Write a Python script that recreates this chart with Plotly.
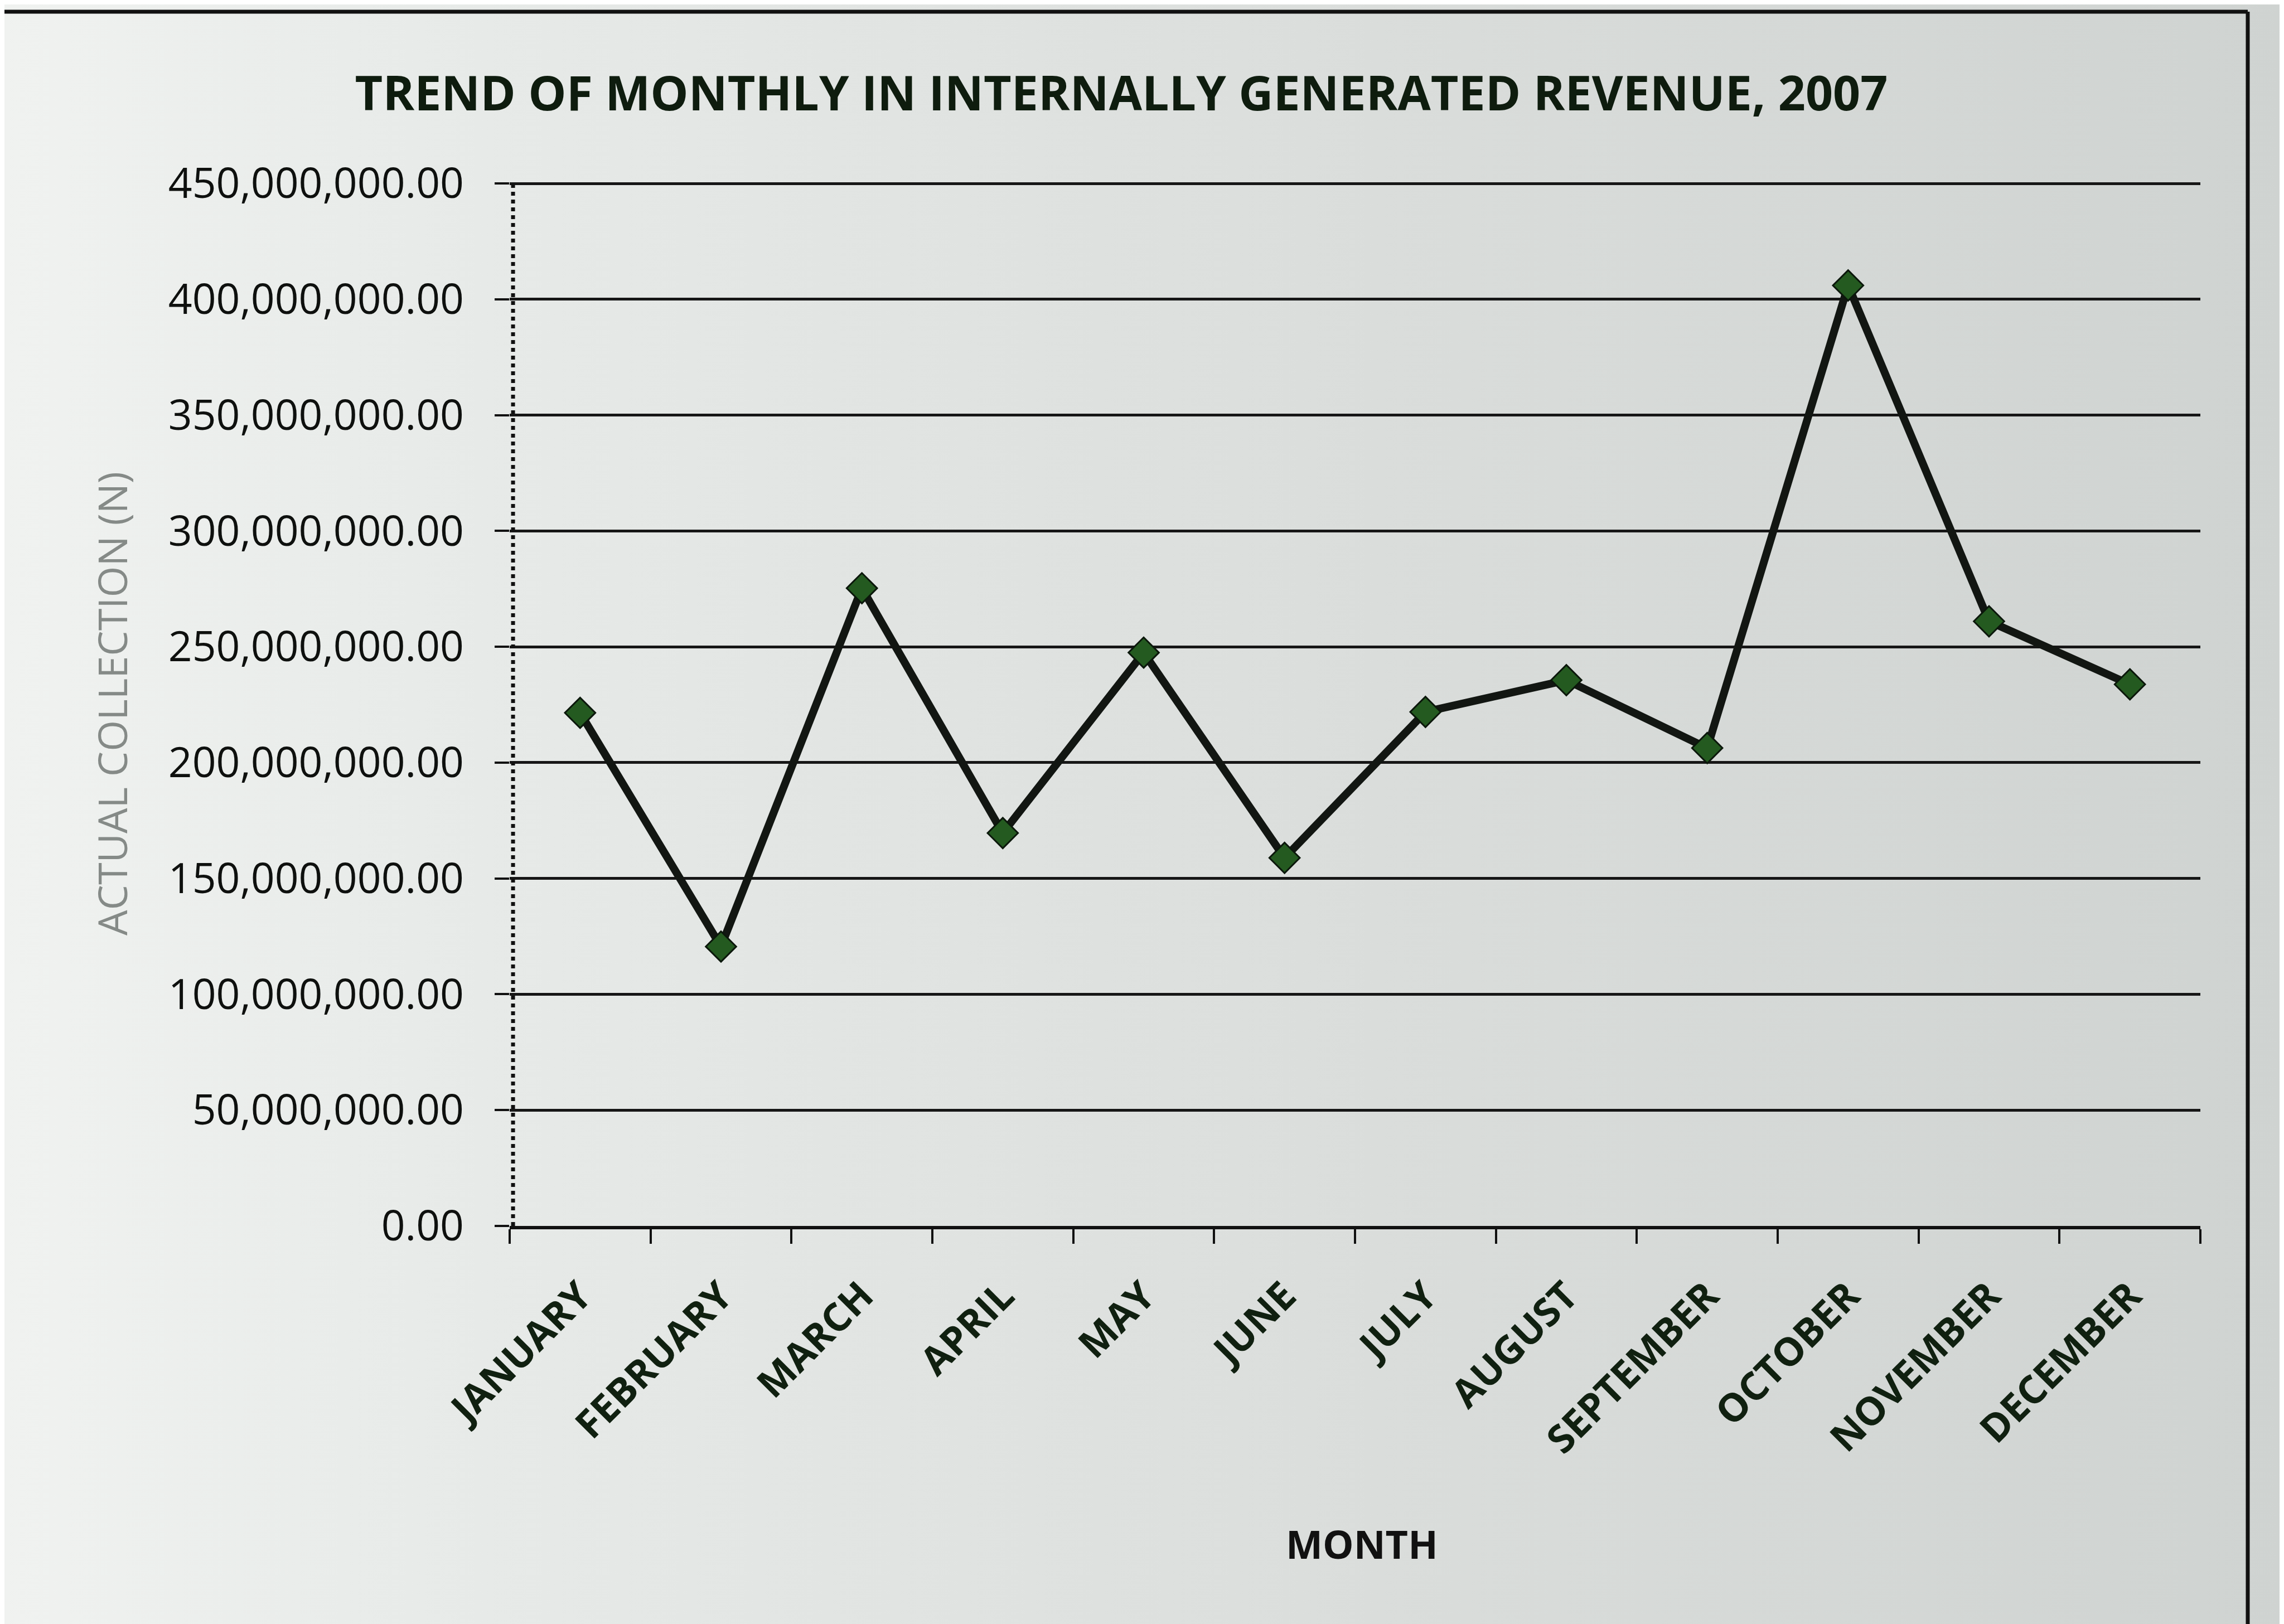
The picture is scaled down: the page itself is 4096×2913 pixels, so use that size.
import base64
import plotly.graph_objects as go

months = ["JANUARY", "FEBRUARY", "MARCH", "APRIL", "MAY", "JUNE", "JULY",
          "AUGUST", "SEPTEMBER", "OCTOBER", "NOVEMBER", "DECEMBER"]
collection = [221.5e6, 120.6e6, 275.3e6, 169.6e6, 247.5e6, 158.9e6,
              221.9e6, 235.6e6, 206.3e6, 406.0e6, 261.0e6, 233.8e6]
y_ticks = [0, 50e6, 100e6, 150e6, 200e6, 250e6, 300e6, 350e6, 400e6, 450e6]

title_text = "TREND OF MONTHLY IN INTERNALLY GENERATED REVENUE, 2007"
y_title = "ACTUAL COLLECTION (N)"
x_title = "MONTH"

W, H = 4096, 2913
L, R, T, B = 906, 158, 317, 722
PW, PH = W - L - R, H - T - B

def px(xp):
    return (xp - L) / PW

def py(yp):
    return (H - B - yp) / PH

svg = ('<svg xmlns="http://www.w3.org/2000/svg" width="400" height="300" preserveAspectRatio="none">'
       '<defs><linearGradient id="g" x1="0" y1="0" x2="1" y2="0">'
       '<stop offset="0" stop-color="#f0f2f0"/><stop offset="0.15" stop-color="#e9ecea"/>'
       '<stop offset="0.6" stop-color="#dadddb"/><stop offset="1" stop-color="#cfd3d1"/>'
       '</linearGradient></defs><rect width="400" height="300" fill="url(#g)"/></svg>')
bg_src = "data:image/svg+xml;base64," + base64.b64encode(svg.encode()).decode()

fig = go.Figure()
fig.add_trace(go.Scatter(
    x=months, y=collection, mode="lines+markers",
    line=dict(color="#121612", width=14),
    marker=dict(symbol="diamond", size=42, color="#245a20",
                line=dict(color="#0b170b", width=3)),
    showlegend=False, cliponaxis=False,
))

font_main = "Open Sans"

fig.update_layout(
    width=W, height=H, autosize=False,
    margin=dict(l=L, r=R, t=T, b=B),
    paper_bgcolor="#dadddb",
    plot_bgcolor="rgba(0,0,0,0)",
    font=dict(family=font_main, color="#111111"),
    title=dict(text="<b>" + title_text + "</b>", x=px(2003), xref="paper",
               xanchor="center", y=1 - 160 / H, yref="container", yanchor="middle",
               font=dict(family=font_main, size=86, color="#0e1c0e")),
    xaxis=dict(
        type="category", tickangle=-45, tickson="boundaries",
        ticks="outside", ticklen=26, tickwidth=4, tickcolor="#111111",
        showline=True, linecolor="#111111", linewidth=6,
        showgrid=False, ticklabelstandoff=50,
        tickfont=dict(family=font_main, size=70, color="#102010", weight="bold"),
        range=[-0.5, 11.5],
    ),
    yaxis=dict(
        range=[0, 451e6], tickvals=y_ticks, tickformat=",.2f",
        showgrid=True, gridcolor="#161616", gridwidth=5,
        ticks="outside", ticklen=26, tickwidth=4, tickcolor="#111111",
        showline=False, zeroline=False, ticklabelstandoff=40,
        tickfont=dict(family=font_main, size=75, color="#0e100e"),
    ),
    images=[dict(source=bg_src, xref="paper", yref="paper",
                 x=px(0), y=py(0), sizex=W / PW, sizey=H / PH,
                 sizing="stretch", layer="below", xanchor="left", yanchor="top")],
    shapes=[
        dict(type="line", xref="paper", yref="paper", x0=0.002, x1=0.002, y0=0, y1=0.998,
             line=dict(color="#111111", width=7, dash="dot")),
        dict(type="line", xref="paper", yref="paper", x0=px(0), x1=px(4023), y0=py(13), y1=py(13),
             line=dict(color="#111111", width=7)),
        dict(type="line", xref="paper", yref="paper", x0=px(4023), x1=px(4023), y0=py(13), y1=py(H),
             line=dict(color="#111111", width=7)),
    ],
    annotations=[
        dict(text=y_title, xref="paper", yref="paper", x=px(192), y=0.5,
             xanchor="center", yanchor="middle", textangle=-90, showarrow=False,
             font=dict(family=font_main, size=72, color="#858a87")),
        dict(text="<b>" + x_title + "</b>", xref="paper", yref="paper", x=px(2434), y=py(2761),
             xanchor="center", yanchor="middle", showarrow=False,
             font=dict(family=font_main, size=70, color="#111111")),
    ],
)

fig.write_html("out.html")
